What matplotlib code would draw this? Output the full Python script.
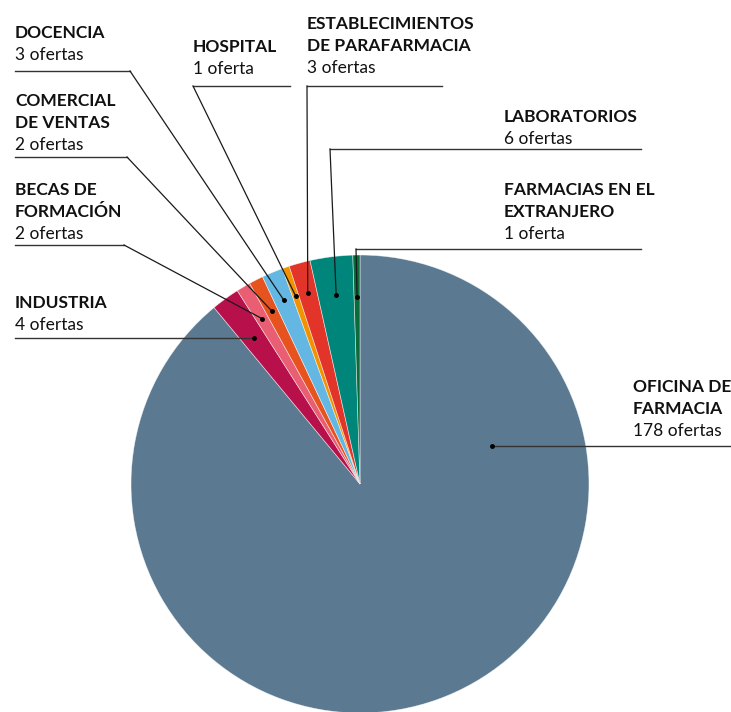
import numpy as np
import matplotlib
matplotlib.use("Agg")
import matplotlib.pyplot as plt

plt.rcParams['font.family'] = ['Lato', 'DejaVu Sans']

# data
categories = ["OFICINA DE\nFARMACIA", "INDUSTRIA", "BECAS DE\nFORMACIÓN",
              "COMERCIAL\nDE VENTAS", "DOCENCIA", "HOSPITAL",
              "ESTABLECIMIENTOS\nDE PARAFARMACIA", "LABORATORIOS",
              "FARMACIAS EN EL\nEXTRANJERO"]
offers = [178, 4, 2, 2, 3, 1, 3, 6, 1]
colors = ["#5B7A91", "#B7104A", "#E95E72", "#E7531F", "#63B7E2",
          "#F39200", "#E3342A", "#00857A", "#0B6B3A"]

# label layout in pixels (top-left origin):
# text x, first baseline, underline y, underline x0, x1, elbow side, dot radius
layout = [
    (633, 392, 446, None, 731, "dot", 137),
    (15, 308, 338, 15, None, "dot", 180),
    (15, 195, 245, 15, 124, "right", 192),
    (15, 106, 157, 15, 127, "right", 194),
    (15, 38, 71, 15, 130, "right", 199),
    (193, 52, 86, 193, 290, "left", 199),
    (307, 29, 86, 307, 442, "left", 198),
    (504, 122, 149, 330, 641, "left", 190),
    (504, 195, 249, 356, 641, "left", 187),
]
W, H = 731, 712
cx, cy, R = 360, 484, 229
line_h = 22


def py(y):
    # pixel y (from top) to data y
    return H - y


fig = plt.figure(figsize=(W / 100, H / 100), dpi=100)
ax = fig.add_axes([0, 0, 1, 1])

wedges, _ = ax.pie(offers, colors=colors, startangle=90, counterclock=False,
                   center=(cx, py(cy)), radius=R,
                   wedgeprops=dict(edgecolor=(1, 1, 1, 0.6), linewidth=0.5))

for i, (w, lab, n) in enumerate(zip(wedges, categories, offers)):
    tx, bl, ly, x0, x1, side, r = layout[i]
    ang = np.deg2rad((w.theta1 + w.theta2) / 2)
    if i == 0:
        # big slice: anchor sits on the underline
        ang = np.arcsin((cy - ly) / r)
    dx = cx + r * np.cos(ang)
    dy = cy - r * np.sin(ang)

    if side == "dot":
        if x0 is None:
            ax.plot([dx, x1], [py(ly), py(ly)], color="#333333", lw=1)
        else:
            ax.plot([x0, dx], [py(ly), py(ly)], color="#333333", lw=1)
    else:
        ax.plot([x0, x1], [py(ly), py(ly)], color="#333333", lw=1)
        ex = x1 if side == "right" else x0
        ax.plot([ex, dx], [py(ly), py(dy)], color="#1a1a1a", lw=0.9)
    ax.plot(dx, py(dy), "o", color="black", ms=2.5)

    lines = lab.split("\n")
    for k, t in enumerate(lines):
        ax.text(tx, py(bl + k * line_h), t, fontsize=12.5, fontweight="bold",
                color="#111111", va="baseline", ha="left")
    cnt = f"{n} oferta" + ("" if n == 1 else "s")
    ax.text(tx, py(bl + len(lines) * line_h), cnt, fontsize=12.5,
            color="#111111", va="baseline", ha="left")

ax.set_xlim(0, W)
ax.set_ylim(0, H)
ax.set_aspect("equal")
ax.axis("off")

fig.savefig("out.png", dpi=100)
